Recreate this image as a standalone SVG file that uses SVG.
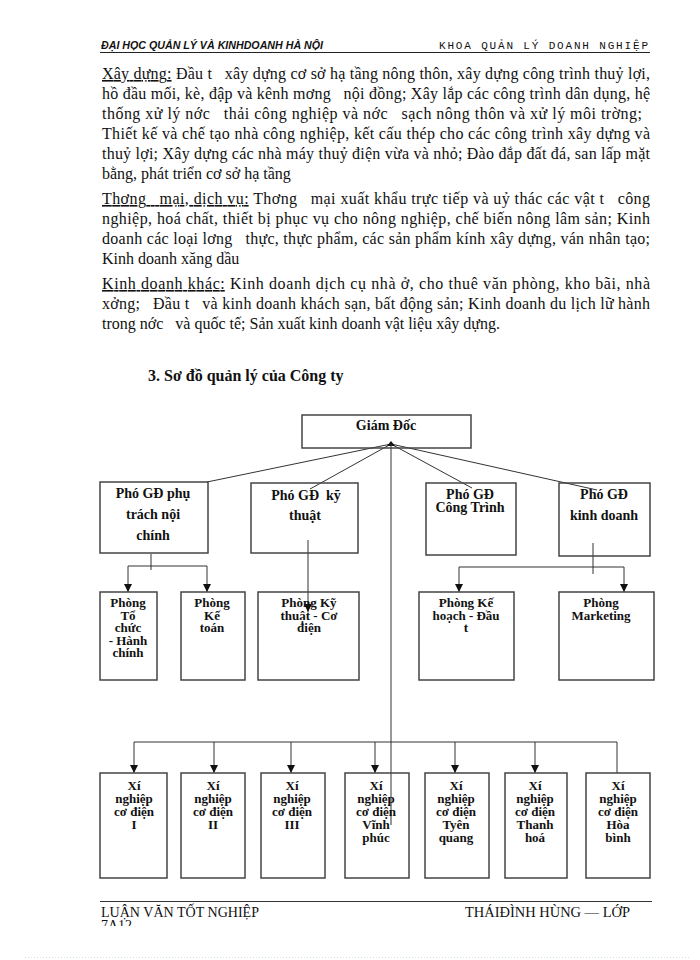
<svg xmlns="http://www.w3.org/2000/svg" width="700" height="960" viewBox="0 0 700 960">
<defs>
<style>
.body{font-family:"Liberation Serif","Times New Roman",serif;font-size:16px;fill:#111}
.ul{text-decoration:underline}
.n{font-family:"Liberation Serif","Times New Roman",serif;font-size:14px;font-weight:bold;fill:#111;text-anchor:middle}
.s{font-size:13px}
.box{fill:none;stroke:#444;stroke-width:1.5}
.c{stroke:#333;stroke-width:1;fill:none}
.ca{stroke:#333;stroke-width:1;fill:none;marker-end:url(#ah)}
</style>
<marker id="ah" viewBox="0 0 8 8" refX="8" refY="4" markerWidth="8" markerHeight="8" markerUnits="userSpaceOnUse" orient="auto">
<path d="M0,0 L8,4 L0,8 z" fill="#111"/>
</marker>
<clipPath id="clipfoot"><rect x="0" y="0" width="700" height="926"/></clipPath>
</defs>
<rect width="700" height="960" fill="#fff"/>

<g id="header">
<text x="101" y="49" font-family="'Liberation Sans',Arial,sans-serif" font-size="11" font-style="italic" font-weight="bold" fill="#111" textLength="222" lengthAdjust="spacingAndGlyphs">ĐẠI HỌC QUẢN LÝ VÀ KINHDOANH HÀ NỘI</text>
<text x="439" y="49" font-family="'Liberation Mono','Courier New',monospace" font-size="11" fill="#111" textLength="209" lengthAdjust="spacing">KHOA QUẢN LÝ DOANH NGHIỆP</text>
<line x1="100" y1="52.5" x2="650" y2="52.5" stroke="#222" stroke-width="1.2"/>
</g>

<g id="bodytext" class="body">
<text x="102" y="79" xml:space="preserve" textLength="548" lengthAdjust="spacing"><tspan class="ul">Xây dựng:</tspan> Đầu t   xây dựng cơ sở hạ tầng nông thôn, xây dựng công trình thuỷ lợi,</text>
<text x="102" y="99" xml:space="preserve" textLength="548" lengthAdjust="spacing">hồ đầu mối, kè, đập và kênh mơng   nội đồng; Xây lắp các công trình dân dụng, hệ</text>
<text x="102" y="119" xml:space="preserve" textLength="540" lengthAdjust="spacing">thống xử lý nớc   thải công nghiệp và nớc   sạch nông thôn và xử lý môi trờng;</text>
<text x="102" y="139" xml:space="preserve" textLength="548" lengthAdjust="spacing">Thiết kế và chế tạo nhà công nghiệp, kết cấu thép cho các công trình xây dựng và</text>
<text x="102" y="159" xml:space="preserve" textLength="548" lengthAdjust="spacing">thuỷ lợi; Xây dựng các nhà máy thuỷ điện vừa và nhỏ; Đào đắp đất đá, san lấp mặt</text>
<text x="102" y="179" xml:space="preserve">bằng, phát triển cơ sở hạ tầng</text>

<text x="102" y="204" xml:space="preserve" textLength="548" lengthAdjust="spacing"><tspan class="ul">Thơng   mại, dịch vụ:</tspan> Thơng   mại xuất khẩu trực tiếp và uỷ thác các vật t   công</text>
<text x="102" y="224" xml:space="preserve" textLength="548" lengthAdjust="spacing">nghiệp, hoá chất, thiết bị phục vụ cho nông nghiệp, chế biến nông lâm sản; Kinh</text>
<text x="102" y="244" xml:space="preserve" textLength="548" lengthAdjust="spacing">doanh các loại lơng   thực, thực phẩm, các sản phẩm kính xây dựng, ván nhân tạo;</text>
<text x="102" y="264" xml:space="preserve">Kinh doanh xăng dầu</text>

<text x="102" y="289" xml:space="preserve" textLength="548" lengthAdjust="spacing"><tspan class="ul">Kinh doanh khác:</tspan> Kinh doanh dịch cụ nhà ở, cho thuê văn phòng, kho bãi, nhà</text>
<text x="102" y="309" xml:space="preserve" textLength="548" lengthAdjust="spacing">xởng;   Đầu t   và kinh doanh khách sạn, bất động sản; Kinh doanh du lịch lữ hành</text>
<text x="102" y="329" xml:space="preserve">trong nớc   và quốc tế; Sản xuất kinh doanh vật liệu xây dựng.</text>

<text x="148" y="381" font-weight="bold">3. Sơ đồ quản lý của Công ty</text>
</g>

<g id="connectors">
<line class="c" x1="391" y1="444" x2="207" y2="482"/>
<line class="c" x1="391" y1="444" x2="310" y2="489"/>
<line class="c" x1="391" y1="444" x2="472" y2="488"/>
<line class="c" x1="391" y1="444" x2="597" y2="490"/>
<polygon points="391,441 387,446 395,446" fill="#111"/>
<line class="c" x1="391" y1="444" x2="391" y2="825"/>

<polyline class="c" points="151,554 151,570"/>
<line class="c" x1="128" y1="566" x2="207" y2="566"/>
<line class="ca" x1="128" y1="566" x2="128" y2="592"/>
<line class="ca" x1="207" y1="566" x2="207" y2="592"/>

<line class="ca" x1="308" y1="540" x2="308" y2="612"/>

<polyline class="c" points="593,543 593,574"/>
<line class="c" x1="459" y1="567" x2="624" y2="567"/>
<line class="ca" x1="459" y1="567" x2="459" y2="592"/>
<line class="ca" x1="624" y1="567" x2="624" y2="592"/>

<line class="c" x1="134" y1="742" x2="617" y2="742"/>
<line class="ca" x1="134" y1="742" x2="134" y2="773"/>
<line class="ca" x1="214" y1="742" x2="214" y2="773"/>
<line class="ca" x1="291" y1="742" x2="291" y2="773"/>
<line class="ca" x1="375" y1="742" x2="375" y2="773"/>
<line class="ca" x1="455" y1="742" x2="455" y2="773"/>
<line class="ca" x1="535" y1="742" x2="535" y2="773"/>
<line class="c" x1="617" y1="742" x2="617" y2="773"/>
</g>

<g id="giam-doc">
<rect class="box" x="302" y="415" width="169" height="33"/>
<text class="n" x="386" y="430">Giám Đốc</text>
</g>

<g id="pgd-noi-chinh">
<rect class="box" x="100" y="482" width="108" height="71"/>
<text class="n" x="153" y="498">Phó GĐ phụ</text>
<text class="n" x="153" y="519">trách nội</text>
<text class="n" x="153" y="540">chính</text>
</g>
<g id="pgd-ky-thuat">
<rect class="box" x="251" y="483" width="107" height="70"/>
<text class="n" x="306" y="500" xml:space="preserve">Phó GĐ  kỹ</text>
<text class="n" x="305" y="520">thuật</text>
</g>
<g id="pgd-cong-trinh">
<rect class="box" x="426" y="483" width="90" height="72"/>
<text class="n" x="470" y="499">Phó GĐ</text>
<text class="n" x="470" y="512">Công Trình</text>
</g>
<g id="pgd-kinh-doanh">
<rect class="box" x="559" y="483" width="91" height="73"/>
<text class="n" x="604" y="499">Phó GĐ</text>
<text class="n" x="604" y="520">kinh doanh</text>
</g>

<g id="phong-to-chuc">
<rect class="box" x="100" y="592" width="57" height="88"/>
<text class="n s" x="128" y="607">Phòng</text>
<text class="n s" x="128" y="619.5">Tổ</text>
<text class="n s" x="128" y="632">chức</text>
<text class="n s" x="128" y="644.5">- Hành</text>
<text class="n s" x="128" y="657">chính</text>
</g>
<g id="phong-ke-toan">
<rect class="box" x="181" y="592" width="64" height="88"/>
<text class="n s" x="212" y="607">Phòng</text>
<text class="n s" x="212" y="619.5">Kế</text>
<text class="n s" x="212" y="632">toán</text>
</g>
<g id="phong-ky-thuat">
<rect class="box" x="258" y="592" width="101" height="88"/>
<text class="n s" x="309" y="607">Phòng Kỹ</text>
<text class="n s" x="309" y="619.5">thuật - Cơ</text>
<text class="n s" x="309" y="632">điện</text>
</g>
<g id="phong-ke-hoach">
<rect class="box" x="419" y="592" width="95" height="88"/>
<text class="n s" x="466" y="607">Phòng Kế</text>
<text class="n s" x="466" y="619.5">hoạch - Đầu</text>
<text class="n s" x="466" y="632">t</text>
</g>
<g id="phong-marketing">
<rect class="box" x="559" y="592" width="95" height="88"/>
<text class="n s" x="601" y="607">Phòng</text>
<text class="n s" x="601" y="619.5">Marketing</text>
</g>

<g id="xn-1">
<rect class="box" x="100" y="773" width="67" height="105"/>
<text class="n s" x="134" y="790">Xí</text>
<text class="n s" x="134" y="803">nghiệp</text>
<text class="n s" x="134" y="816">cơ điện</text>
<text class="n s" x="134" y="829">I</text>
</g>
<g id="xn-2">
<rect class="box" x="181" y="773" width="64" height="105"/>
<text class="n s" x="213" y="790">Xí</text>
<text class="n s" x="213" y="803">nghiệp</text>
<text class="n s" x="213" y="816">cơ điện</text>
<text class="n s" x="213" y="829">II</text>
</g>
<g id="xn-3">
<rect class="box" x="261" y="773" width="64" height="105"/>
<text class="n s" x="292" y="790">Xí</text>
<text class="n s" x="292" y="803">nghiệp</text>
<text class="n s" x="292" y="816">cơ điện</text>
<text class="n s" x="292" y="829">III</text>
</g>
<g id="xn-vinh-phuc">
<rect class="box" x="345" y="773" width="64" height="105"/>
<text class="n s" x="376" y="790">Xí</text>
<text class="n s" x="376" y="803">nghiệp</text>
<text class="n s" x="376" y="816">cơ điện</text>
<text class="n s" x="376" y="829">Vĩnh</text>
<text class="n s" x="376" y="842">phúc</text>
</g>
<g id="xn-tuyen-quang">
<rect class="box" x="425" y="773" width="64" height="105"/>
<text class="n s" x="456" y="790">Xí</text>
<text class="n s" x="456" y="803">nghiệp</text>
<text class="n s" x="456" y="816">cơ điện</text>
<text class="n s" x="456" y="829">Tyên</text>
<text class="n s" x="456" y="842">quang</text>
</g>
<g id="xn-thanh-hoa">
<rect class="box" x="505" y="773" width="62" height="105"/>
<text class="n s" x="535" y="790">Xí</text>
<text class="n s" x="535" y="803">nghiệp</text>
<text class="n s" x="535" y="816">cơ điện</text>
<text class="n s" x="535" y="829">Thanh</text>
<text class="n s" x="535" y="842">hoá</text>
</g>
<g id="xn-hoa-binh">
<rect class="box" x="586" y="773" width="64" height="105"/>
<text class="n s" x="618" y="790">Xí</text>
<text class="n s" x="618" y="803">nghiệp</text>
<text class="n s" x="618" y="816">cơ điện</text>
<text class="n s" x="618" y="829">Hòa</text>
<text class="n s" x="618" y="842">bình</text>
</g>

<g id="footer">
<line x1="100" y1="901.5" x2="652" y2="901.5" stroke="#333" stroke-width="1"/>
<text x="101" y="917" font-family="'Liberation Serif','Times New Roman',serif" font-size="14" fill="#111" textLength="158" lengthAdjust="spacingAndGlyphs">LUẬN VĂN TỐT NGHIỆP</text>
<text x="465" y="917" font-family="'Liberation Serif','Times New Roman',serif" font-size="14" fill="#111" textLength="165" lengthAdjust="spacingAndGlyphs">THÁIĐÌNH HÙNG — LỚP</text>
<text x="101" y="930" clip-path="url(#clipfoot)" font-family="'Liberation Serif','Times New Roman',serif" font-size="14" fill="#111">7A12</text>
<line x1="25" y1="957.5" x2="690" y2="957.5" stroke="#cfe6cf" stroke-width="1" stroke-dasharray="1,2"/>
</g>
</svg>
